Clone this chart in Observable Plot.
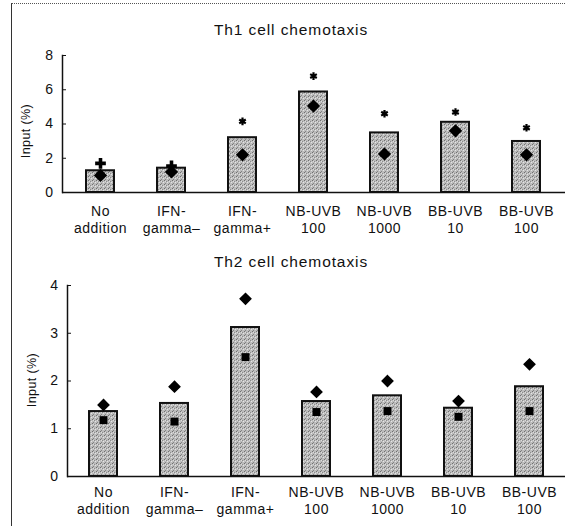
<!DOCTYPE html>
<html><head><meta charset="utf-8">
<script src="https://cdn.jsdelivr.net/npm/d3@7"></script>
<script src="https://cdn.jsdelivr.net/npm/@observablehq/plot@0.6"></script>
<style>
body{margin:0;background:#fff;font-family:"Liberation Sans",Arial,sans-serif;}
#fig{position:relative;width:565px;height:526px;overflow:hidden;background:#fff;}
#border{position:absolute;left:11px;top:3px;right:-2px;bottom:-2px;border-left:1.5px solid #333;border-top:1px dotted #555;}
.title{position:absolute;left:141px;width:300px;text-align:center;font-size:15.5px;letter-spacing:0.9px;color:#111;line-height:18px;}
.ylab{position:absolute;width:120px;height:16px;line-height:16px;text-align:center;font-size:12.5px;letter-spacing:0.4px;color:#111;transform:rotate(-90deg);}
.panel{position:absolute;left:0;}
.panel svg text{letter-spacing:0.5px;}
</style></head><body>
<svg width="0" height="0" style="position:absolute">
<defs>
<pattern id="stip" width="4" height="4" patternUnits="userSpaceOnUse">
<rect width="4" height="4" fill="#bcbcbc"/>
<rect x="0" y="0" width="1" height="1" fill="#707070"/>
<rect x="2" y="1" width="1" height="1" fill="#8c8c8c"/>
<rect x="1" y="3" width="1" height="1" fill="#848484"/>
<rect x="3" y="2" width="1" height="1" fill="#e4e4e4"/>
<rect x="1" y="1" width="1" height="1" fill="#dcdcdc"/>
</pattern>
</defs>
</svg>
<div id="fig">
<div id="border"></div>
<div class="title" style="top:21px">Th1 cell chemotaxis</div>
<div class="title" style="top:253px">Th2 cell chemotaxis</div>
<div class="panel" id="p1" style="top:40px"></div>
<div class="panel" id="p2" style="top:275px"></div>
<div class="ylab" style="left:-34px;top:123px">Input (%)</div>
<div class="ylab" style="left:-28px;top:372px">Input (%)</div>
</div>
<script>
const categories = ["No addition","IFN-gamma-","IFN-gamma+","NB-UVB 100","NB-UVB 1000","BB-UVB 10","BB-UVB 100"];
const tickLabels = ["No\naddition","IFN-\ngamma\u2013","IFN-\ngamma+","NB-UVB\n100","NB-UVB\n1000","BB-UVB\n10","BB-UVB\n100"];

// Th1 panel
const th1Ticks = [0,2,4,6,8];
const th1Bars = [1.27,1.42,3.2,5.87,3.48,4.1,2.98];
const th1Diamond = [1.0,1.2,2.2,5.05,2.25,3.6,2.2];
const th1ExtraCats = ["No addition","IFN-gamma-"];
const th1Extra = [1.7,1.55];
const th1StarCats = ["IFN-gamma+","NB-UVB 100","NB-UVB 1000","BB-UVB 10","BB-UVB 100"];
const th1Star = [4.15,6.8,4.6,4.7,3.78];

// Th2 panel
const th2Ticks = [0,1,2,3,4];
const th2Bars = [1.36,1.53,3.12,1.57,1.69,1.43,1.88];
const th2Upper = [1.5,1.88,3.72,1.77,2.0,1.58,2.35];
const th2Lower = [1.18,1.15,2.5,1.35,1.37,1.25,1.37];

const labelOf = new Map(categories.map((c,i)=>[c,tickLabels[i]]));
const rows = (cats, vals) => cats.map((c,i)=>({cat:c, v:vals[i]}));

function panel({height, marginLeft, marginTop, yDomain, yTicks, bars, marks, xPad}) {
  return Plot.plot({
    width:565, height, marginLeft, marginRight:0, marginTop, marginBottom:45,
    style:{fontFamily:"'Liberation Sans', Arial, sans-serif", color:"#111", background:"transparent", overflow:"visible"},
    x:{domain:categories, paddingInner:0.6, paddingOuter:0.3},
    y:{domain:yDomain},
    marks:[
      Plot.barY(rows(categories,bars), {x:"cat", y:"v", fill:"url(#stip)", stroke:"#111", strokeWidth:2}),
      ...marks,
      Plot.ruleY([0], {stroke:"#111", strokeWidth:1.5}),
      Plot.frame({anchor:"left", stroke:"#111", strokeWidth:1.5}),
      Plot.axisX({tickSize:0, tickPadding:xPad, fontSize:14, lineHeight:1.25, label:null, tickFormat:d=>labelOf.get(d)}),
      Plot.axisY({ticks:yTicks, tickSize:-4, tickPadding:13, fontSize:14, tickFormat:d3.format("d"), label:null})
    ]
  });
}

document.getElementById("p1").append(panel({
  height:197, marginLeft:62, marginTop:15, yDomain:[0,8], yTicks:th1Ticks, bars:th1Bars, xPad:11,
  marks:[
    Plot.dot(rows(categories,th1Diamond), {x:"cat", y:"v", symbol:"diamond2", r:5, fill:"#000", stroke:"#000"}),
    Plot.dot(rows(th1ExtraCats,th1Extra), {x:"cat", y:"v", symbol:"cross", r:4.5, fill:"#000"}),
    Plot.dot(rows(th1StarCats,th1Star), {x:"cat", y:"v", symbol:"asterisk", r:3.6, stroke:"#000", strokeWidth:2.2})
  ]
}));

document.getElementById("p2").append(panel({
  height:246, marginLeft:67, marginTop:10, yDomain:[0,4], yTicks:th2Ticks, bars:th2Bars, xPad:8,
  marks:[
    Plot.dot(rows(categories,th2Lower), {x:"cat", y:"v", symbol:"square", r:4.5, fill:"#000"}),
    Plot.dot(rows(categories,th2Upper), {x:"cat", y:"v", symbol:"diamond2", r:4.8, fill:"#000", stroke:"#000"})
  ]
}));
</script>
</body></html>
